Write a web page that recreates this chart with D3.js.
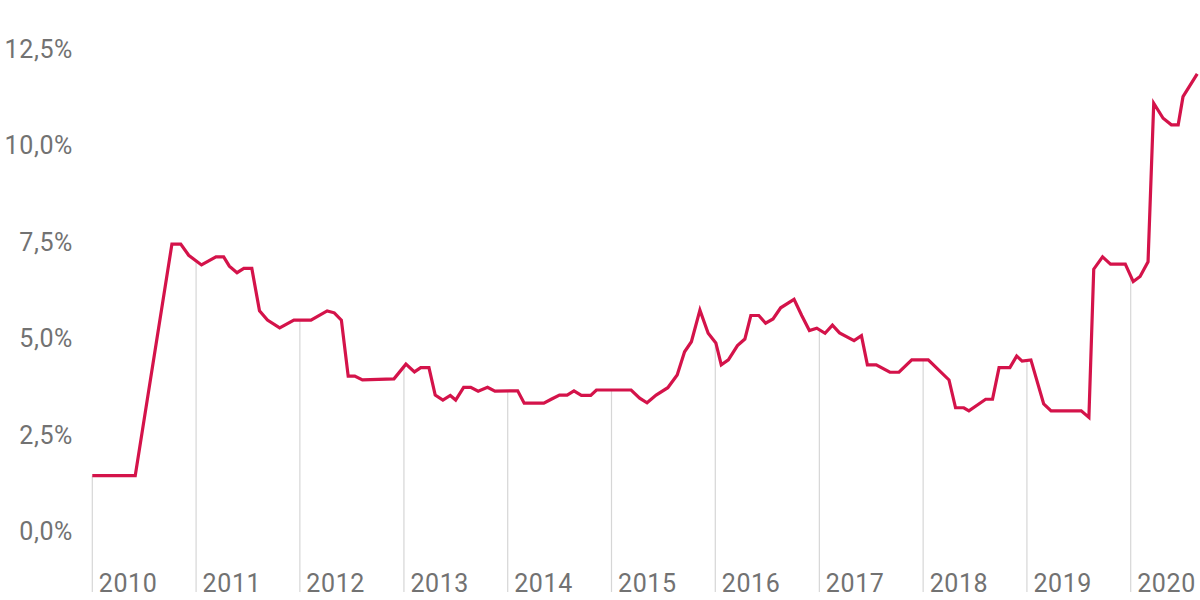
<!DOCTYPE html>
<html>
<head>
<meta charset="utf-8">
<script src="https://cdn.jsdelivr.net/npm/d3@7"></script>
<style>
  html, body { margin: 0; padding: 0; background: #fff; }
  svg { display: block; }
  text { font-family: Roboto, "Liberation Sans", sans-serif; fill: #727272; letter-spacing: 0.6px; }
</style>
</head>
<body>
<svg id="chart" width="1200" height="600"></svg>
<script>
// ---- data ----
const dates = [
  "2010-01-01","2010-06-01","2010-10-08","2010-11-08","2010-12-06",
  "2011-01-20","2011-03-12","2011-04-08","2011-04-28","2011-05-25","2011-06-18","2011-07-16",
  "2011-08-12","2011-09-09","2011-10-22","2011-12-11",
  "2012-02-09","2012-04-06","2012-05-01","2012-05-26","2012-06-19","2012-07-12","2012-08-08","2012-11-27",
  "2013-01-08","2013-02-07","2013-03-01","2013-03-30","2013-04-21","2013-05-18","2013-06-13","2013-07-02",
  "2013-07-30","2013-08-24","2013-09-19","2013-10-22","2013-11-17",
  "2014-02-05","2014-02-28","2014-05-08","2014-06-03","2014-07-02","2014-07-29","2014-08-22","2014-09-17",
  "2014-10-20","2014-11-09",
  "2015-03-11","2015-04-10","2015-05-06","2015-06-07","2015-07-18","2015-08-20","2015-09-15","2015-10-09",
  "2015-11-08","2015-12-07",
  "2016-01-03","2016-01-22","2016-02-16","2016-03-19","2016-04-14","2016-05-05","2016-06-02","2016-06-26",
  "2016-07-22","2016-08-18","2016-10-04","2016-10-31","2016-11-27","2016-12-23",
  "2017-01-21","2017-02-16","2017-03-13","2017-05-03","2017-05-29","2017-06-19","2017-07-20","2017-09-06",
  "2017-10-08","2017-11-22",
  "2018-01-19","2018-04-02","2018-04-25","2018-05-24","2018-06-11","2018-08-09","2018-09-02","2018-09-25",
  "2018-11-02","2018-11-26","2018-12-15",
  "2019-01-15","2019-03-01","2019-03-27","2019-07-11","2019-08-07","2019-08-24","2019-09-24","2019-10-22",
  "2019-12-13",
  "2020-01-10","2020-02-03","2020-03-02","2020-03-22","2020-04-24","2020-05-23","2020-06-16","2020-07-03",
  "2020-08-22"
];
const rates = [
  1.50,1.50,7.50,7.50,7.21,
  6.96,7.17,7.17,6.93,6.76,6.87,6.87,
  5.77,5.53,5.33,5.53,
  5.53,5.77,5.72,5.53,4.08,4.08,3.98,4.01,
  4.39,4.19,4.30,4.30,3.59,3.46,3.58,3.46,
  3.79,3.79,3.69,3.79,3.69,
  3.70,3.38,3.38,3.48,3.59,3.59,3.70,3.58,
  3.58,3.72,
  3.72,3.51,3.39,3.59,3.78,4.11,4.71,4.97,
  5.79,5.19,
  4.94,4.37,4.50,4.87,5.04,5.65,5.65,5.45,
  5.56,5.85,6.07,5.65,5.26,5.32,
  5.19,5.40,5.20,5.00,5.13,4.37,4.37,4.18,
  4.18,4.50,
  4.50,3.98,3.26,3.26,3.18,3.48,3.48,4.30,
  4.30,4.60,4.47,
  4.50,3.36,3.18,3.18,3.01,6.85,7.17,6.98,
  6.98,
  6.53,6.66,7.04,11.15,10.76,10.59,10.59,11.32,
  11.91
];
const yTicks = [0, 2.5, 5, 7.5, 10, 12.5];
const yearLabels = ["2010","2011","2012","2013","2014","2015","2016","2017","2018","2019","2020"];

// ---- drawing ----
const parse = d3.timeParse("%Y-%m-%d");
const data = dates.map((d, i) => ({ date: parse(d), value: rates[i] }));

const svg = d3.select("#chart");

const x = d3.scaleTime()
  .domain([new Date(2010, 0, 1), new Date(2020, 0, 1)])
  .range([92.3, 1130.7]);
const y = d3.scaleLinear()
  .domain([0, 12.5])
  .range([533.6, 51.1]);

const bottom = 592;
const fmt = v => d3.format(".1f")(v).replace(".", ",") + "%";

// y labels
svg.append("g")
  .selectAll("text")
  .data(yTicks)
  .join("text")
  .attr("x", 73)
  .attr("y", d => y(d) - 2.3)
  .attr("dy", "0.35em")
  .attr("text-anchor", "end")
  .style("font-size", "25px")
  .text(fmt);

// value of the line at a date (for year drop-lines)
const bis = d3.bisector(d => d.date).left;
function valueAt(dt) {
  const i = bis(data, dt);
  if (i <= 0) return data[0].value;
  if (i >= data.length) return data[data.length - 1].value;
  const a = data[i - 1], b = data[i];
  const t = (dt - a.date) / (b.date - a.date);
  return a.value + t * (b.value - a.value);
}

// year drop-lines and labels
const years = yearLabels.map(s => new Date(+s, 0, 1));
svg.append("g")
  .selectAll("line")
  .data(years)
  .join("line")
  .attr("x1", d => x(d))
  .attr("x2", d => x(d))
  .attr("y1", d => y(valueAt(d)))
  .attr("y2", bottom)
  .attr("stroke", "#d6d6d6")
  .attr("stroke-width", 1.2);

svg.append("g")
  .selectAll("text")
  .data(yearLabels)
  .join("text")
  .attr("x", (d, i) => x(years[i]) + 6.5)
  .attr("y", bottom)
  .style("font-size", "25px")
  .text(d => d);

// line
const line = d3.line()
  .x(d => x(d.date))
  .y(d => y(d.value));

svg.append("path")
  .datum(data)
  .attr("d", line)
  .attr("fill", "none")
  .attr("stroke", "#d4134a")
  .attr("stroke-width", 3.2)
  .attr("stroke-linejoin", "miter")
  .attr("stroke-linecap", "butt");
</script>
</body>
</html>
